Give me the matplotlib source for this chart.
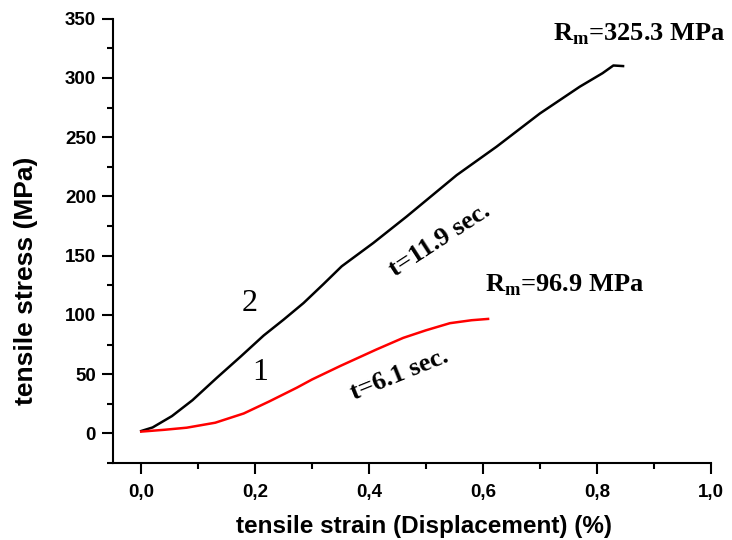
import numpy as np
import matplotlib
matplotlib.use("Agg")
import matplotlib.pyplot as plt
from matplotlib.ticker import MultipleLocator, FuncFormatter

plt.rcParams['font.family'] = 'Liberation Sans'
plt.rcParams['mathtext.fontset'] = 'custom'
plt.rcParams['mathtext.rm'] = 'Liberation Serif:bold'
plt.rcParams['mathtext.bf'] = 'Liberation Serif:bold'

# curve 2 (black), t = 11.9 s
strain_2 = [0.0, 0.02, 0.054, 0.09, 0.133, 0.175, 0.215, 0.25, 0.285, 0.32,
            0.352, 0.4075, 0.466, 0.554, 0.624, 0.70, 0.77, 0.81, 0.829, 0.846]
stress_2 = [2, 5, 14.6, 28, 47, 65, 82.6, 96, 110, 126,
            141, 160.7, 183, 218, 242, 270, 292.6, 304, 310.5, 310]

# curve 1 (red), t = 6.1 s
strain_1 = [0.0, 0.04, 0.08, 0.13, 0.18, 0.225, 0.273, 0.30, 0.35, 0.413,
            0.46, 0.50, 0.542, 0.58, 0.609]
stress_1 = [1.5, 3, 4.8, 9, 16.8, 27, 38.5, 45.5, 57, 70.8,
            80.6, 87, 93, 95.5, 96.6]

fig = plt.figure(figsize=(7.32, 5.4), dpi=100)
ax = fig.add_axes([0.154, 0.1426, 0.817, 0.8228])

ax.plot(strain_2, stress_2, color='black', lw=1.8)
ax.plot(strain_1, stress_1, color='red', lw=1.8)

ax.set_xlim(-0.05, 1.0)
ax.set_ylim(-25, 350)
ax.xaxis.set_major_locator(MultipleLocator(0.2))
ax.xaxis.set_minor_locator(MultipleLocator(0.1))
ax.yaxis.set_major_locator(MultipleLocator(50))
ax.yaxis.set_minor_locator(MultipleLocator(25))
ax.xaxis.set_major_formatter(FuncFormatter(lambda v, p: f"{v:.1f}".replace('.', ',')))

for s in ['top', 'right']:
    ax.spines[s].set_visible(False)
for s in ['left', 'bottom']:
    ax.spines[s].set_linewidth(1.5)
ax.tick_params(which='major', direction='out', length=8, width=1.5, labelsize=13.5, pad=4)
ax.tick_params(which='minor', direction='out', length=4, width=1.5)
ax.tick_params(axis='x', which='major', pad=7)
for lab in ax.get_xticklabels() + ax.get_yticklabels():
    lab.set_fontweight('bold')

# axis titles placed like in the original (y title sits a bit low)
fig.text(424 / 732, 1 - 526 / 540, 'tensile strain (Displacement) (%)',
         fontsize=17.5, fontweight='bold', ha='center', va='center')
fig.text(26 / 732, 1 - 281 / 540, 'tensile stress (MPa)', rotation=90,
         fontsize=19, fontweight='bold', ha='center', va='center')

serif = dict(family='Liberation Serif', fontweight='bold', fontsize=19)
ax.text(0.723, 331.3, r'R$_\mathrm{m}$=325.3 MPa', ha='left', va='baseline', **serif)
ax.text(0.6035, 119.9, r'R$_\mathrm{m}$=96.9 MPa', ha='left', va='baseline', **serif)
ax.text(0.5245, 163.4, 't=11.9 sec.', rotation=33, ha='center', va='center',
        rotation_mode='anchor', **serif)
ax.text(0.454, 49.7, 't=6.1 sec.', rotation=22, ha='center', va='center',
        rotation_mode='anchor', **serif)
ax.text(0.19, 109.5, '2', ha='center', va='center', family='Liberation Serif', fontsize=23)
ax.text(0.2096, 51.8, '1', ha='center', va='center', family='Liberation Serif', fontsize=23)

fig.savefig('out.png', dpi=100)
